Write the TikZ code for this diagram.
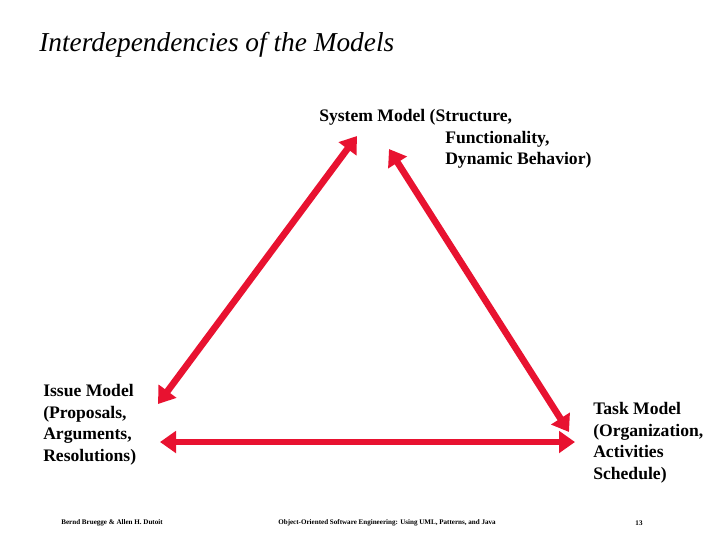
\documentclass[tikz,border=0pt]{standalone}
\usepackage{fontspec}
\setmainfont{Liberation Serif}
\usetikzlibrary{arrows.meta}
\definecolor{arr}{RGB}{232,18,48}
\begin{document}
\begin{tikzpicture}[x=0.75pt,y=-0.75pt,
  lbl/.style={anchor=west,inner sep=0,font=\fontsize{13.2}{16.3}\selectfont\bfseries,align=left},
  dbl/.style={draw=arr,line width=5pt,{Triangle[width=16pt,length=12pt]}-{Triangle[width=16pt,length=12pt]}},
  foot/.style={inner sep=0,font=\fontsize{5.3}{6}\selectfont\bfseries}]
\useasboundingbox (0,0) rectangle (720,540);
\node[anchor=west,inner sep=0,font=\fontsize{20.5}{22}\selectfont\itshape] (title) at (39,45) {Interdependencies of the Models};
\node[lbl] (sys1) at (319,117) {System Model (Structure,};
\node[lbl] (sys2) at (445,139) {Functionality,};
\node[lbl] (sys3) at (445,160) {Dynamic Behavior)};
\node[lbl,anchor=north west] (issue) at (43,384) {Issue Model\\(Proposals,\\Arguments,\\Resolutions)};
\node[lbl,anchor=north west] (task) at (593,402) {Task Model\\(Organization,\\Activities\\Schedule)};
\coordinate (sa) at (357,136);
\coordinate (sb) at (389,149);
\coordinate (ia) at (158,404);
\coordinate (ib) at (160,442);
\coordinate (ta) at (569,432);
\coordinate (tb) at (575,442);
\draw[dbl] (ia) -- (sa);
\draw[dbl] (sb) -- (ta);
\draw[dbl] (ib) -- (tb);
\node[foot] (f1) at (112,523) {Bernd Bruegge \& Allen H. Dutoit};
\node[foot] (f2) at (387,523) {Object-Oriented Software Engineering: Using UML, Patterns, and Java};
\node[foot] (f3) at (639,523) {13};
\end{tikzpicture}
\end{document}
